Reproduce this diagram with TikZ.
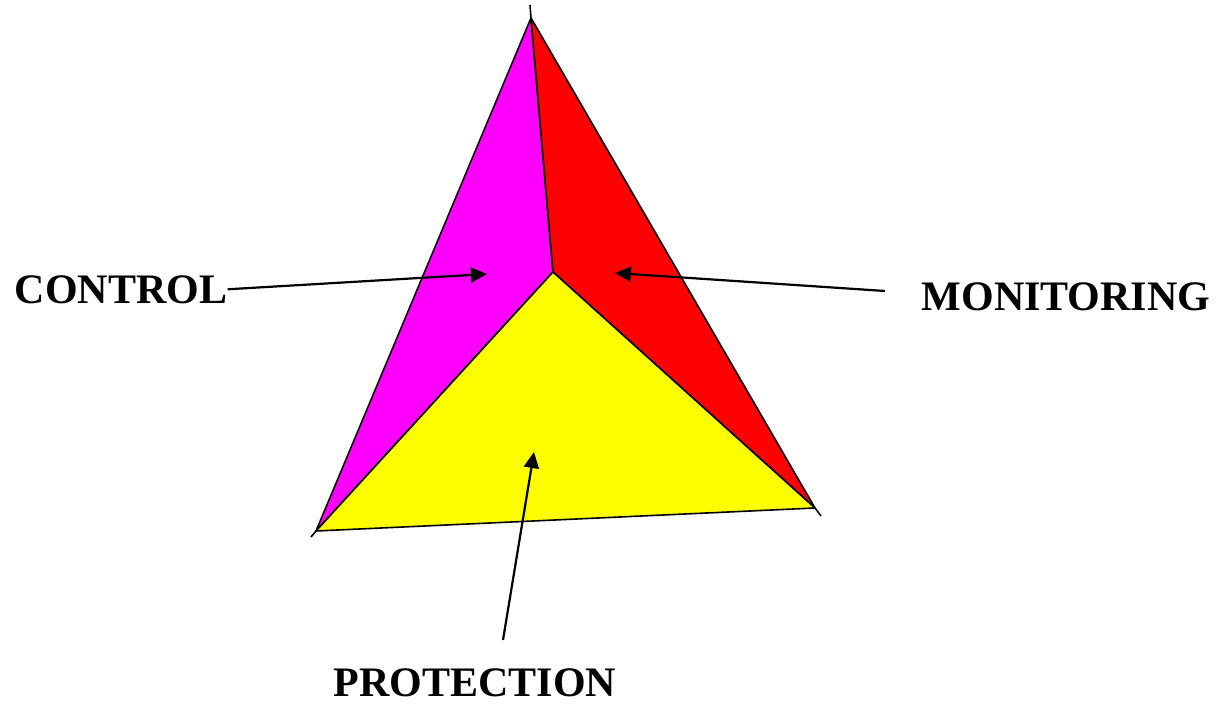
\documentclass[tikz,border=0pt]{standalone}
\usepackage{fontspec}
\setmainfont{Liberation Serif}
\usetikzlibrary{arrows.meta,positioning}

\definecolor{facepink}{RGB}{255,0,255}
\definecolor{facered}{RGB}{255,0,0}
\definecolor{faceyellow}{RGB}{255,255,0}

\begin{document}
\begin{tikzpicture}[
    x=0.5pt, y=-0.5pt,
    face/.style={draw=black, line width=0.8pt, line join=round},
    pointer/.style={-{Triangle[length=8pt, width=7.5pt]}, line width=1.1pt},
    label/.style={font=\fontsize{21}{25}\selectfont\bfseries, inner sep=0pt, anchor=base}
]
    \useasboundingbox (0,0) rectangle (1217,706);

    % Corners of the pyramid
    \coordinate (apex) at (531,18);
    \coordinate (inner) at (553,272);
    \coordinate (bottom_left) at (316,531);
    \coordinate (bottom_right) at (815,508);

    % The three visible faces
    \fill[facepink, face] (apex) -- (inner) -- (bottom_left) -- cycle;
    \fill[facered, face] (apex) -- (inner) -- (bottom_right) -- cycle;
    \fill[faceyellow, face] (inner) -- (bottom_left) -- (bottom_right) -- cycle;

    % Small overshoots at the outer corners
    \draw[line width=0.8pt] (apex) -- (530,5);
    \draw[line width=0.8pt] (bottom_left) -- (311,537);
    \draw[line width=0.8pt] (bottom_right) -- (821,516);

    % --- Labels ---
    \node[label] (control) at (121,303) {CONTROL};
    \node[label] (monitoring) at (1066,310) {MONITORING};
    \node[label] (protection) at (475,696) {PROTECTION};

    % Where the arrows point
    \coordinate (control_tip) at (487,274);
    \coordinate (monitoring_tip) at (615,273);
    \coordinate (protection_tip) at (534,452);
    \coordinate (monitoring_tail) at (885,291);
    \coordinate (protection_tail) at (503,640);

    \draw[pointer] (control.east) -- (control_tip);
    \draw[pointer] (monitoring_tail) -- (monitoring_tip);
    \draw[pointer] (protection_tail) -- (protection_tip);

\end{tikzpicture}
\end{document}
